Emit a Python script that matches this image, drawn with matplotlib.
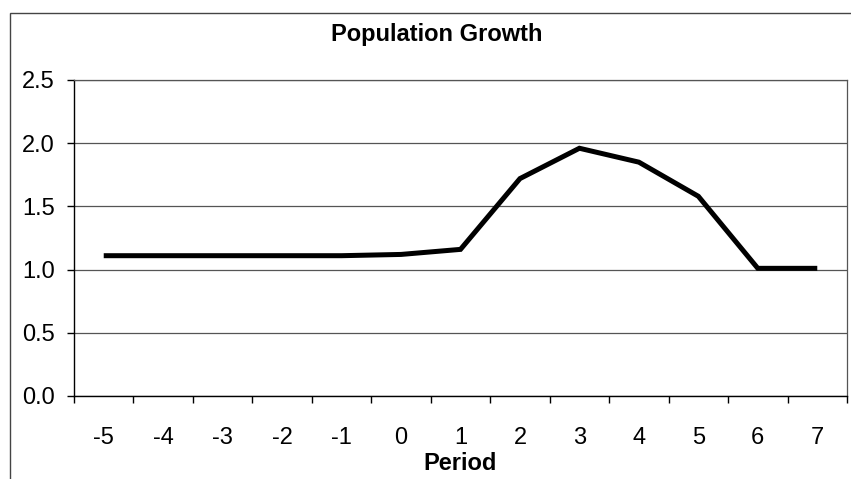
import matplotlib.pyplot as plt
from matplotlib.patches import Rectangle
from matplotlib.ticker import FixedLocator, FormatStrFormatter

## data
periods = ["-5", "-4", "-3", "-2", "-1", "0", "1", "2", "3", "4", "5", "6", "7"]
growth = [1.11, 1.11, 1.11, 1.11, 1.11, 1.12, 1.16, 1.72, 1.96, 1.85, 1.58, 1.01, 1.01]
y_ticks = [0.0, 0.5, 1.0, 1.5, 2.0, 2.5]

plt.rcParams['font.family'] = ['Liberation Sans', 'DejaVu Sans']
fs = 17

fig = plt.figure(figsize=(8.51, 4.79), dpi=100)
ax = fig.add_axes([74 / 851, 1 - 396 / 479, 773 / 851, 316 / 479])

x = list(range(len(periods)))
ax.plot(x, growth, color='black', linewidth=3.6, solid_joinstyle='miter',
        solid_capstyle='butt')

ax.set_xlim(-0.5, len(periods) - 0.5)
ax.set_ylim(0, 2.5)
ax.set_yticks(y_ticks)
ax.yaxis.set_major_formatter(FormatStrFormatter('%.1f'))
ax.grid(axis='y', color='#555555', linewidth=0.9)

# category labels in the middle, tick marks between categories
ax.set_xticks(x)
ax.set_xticklabels(periods)
ax.xaxis.set_minor_locator(FixedLocator([i - 0.5 for i in range(len(periods) + 1)]))
ax.tick_params(axis='x', which='major', length=0, pad=22, labelsize=fs)
ax.tick_params(axis='x', which='minor', length=5, width=1, direction='out')
ax.tick_params(axis='y', length=5, width=1, pad=9, labelsize=fs)

for s in ['left', 'bottom']:
    ax.spines[s].set_color('black')
    ax.spines[s].set_linewidth(1)
for s in ['top', 'right']:
    ax.spines[s].set_color('#555555')
    ax.spines[s].set_linewidth(0.9)

ax.set_xlabel("Period", fontsize=fs, fontweight='bold', labelpad=2.5)
fig.text(437 / 851, 1 - 35 / 479, "Population Growth", ha='center', va='center',
         fontsize=fs, fontweight='bold')

# chart border (cropped at right and bottom in the scan)
fig.add_artist(Rectangle((10 / 851, -0.05), 1.0, 1 - 13 / 479 + 0.05,
                         transform=fig.transFigure, fill=False,
                         edgecolor='#444444', linewidth=1))

fig.savefig("out.png", dpi=100)
